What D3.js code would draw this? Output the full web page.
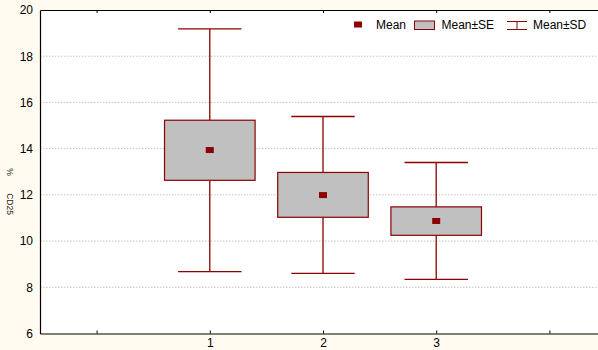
<!DOCTYPE html>
<html><head><meta charset="utf-8">
<script src="https://cdn.jsdelivr.net/npm/d3@7"></script>
<style>body{margin:0;background:#fffbf0}svg{display:block}text{font-family:"Liberation Sans",Arial,sans-serif}</style>
</head><body><svg id="c" width="598" height="350"></svg>
<script>
const categories = ["1","2","3"];
const means  = [13.94, 11.99, 10.87];
const seLow  = [12.63, 11.03, 10.25];
const seHigh = [15.23, 12.97, 11.48];
const sdLow  = [8.68, 8.60, 8.34];
const sdHigh = [19.18, 15.39, 13.40];
const yTicks = [6, 8, 10, 12, 14, 16, 18, 20];
const xTickPos = [0, 1, 2, 3, 4];

const svg = d3.select("#c");
const W = 598, H = 350;
const m = {l: 40, t: 10, b: 333.5};
const x = d3.scaleLinear().domain([-0.5, 4.5]).range([m.l, m.l + 5 * 113.2]);
const y = d3.scaleLinear().domain([6, 20]).range([m.b, m.t]);
const red = "#8b0000";

svg.append("rect").attr("width", W).attr("height", H).attr("fill", "#fffbf0");
svg.append("rect").attr("x", m.l).attr("y", m.t).attr("width", W - m.l).attr("height", m.b - m.t).attr("fill", "#fff");

// grid
svg.append("g").selectAll("line").data(yTicks.filter(d => d > 6 && d < 20)).join("line")
  .attr("x1", m.l).attr("x2", W).attr("y1", d => y(d)).attr("y2", d => y(d))
  .attr("stroke", "#c4c4c4").attr("stroke-width", 1).attr("stroke-dasharray", "1.5,1.5");

// axes
const yAxis = d3.axisLeft(y).tickValues(yTicks).tickSize(0).tickPadding(7).tickFormat(d3.format("d"));
const gy = svg.append("g").attr("transform", `translate(${m.l},0)`).call(yAxis);
gy.select(".domain").attr("stroke", "#000").attr("stroke-width", 1.2);
gy.selectAll("text").attr("font-size", 12).attr("fill", "#000");

const xAxis = d3.axisBottom(x).tickValues(xTickPos).tickSizeInner(-3).tickSizeOuter(0).tickPadding(6)
  .tickFormat(d => (d >= 1 && d <= 3) ? categories[d - 1] : "");
const gx = svg.append("g").attr("transform", `translate(0,${m.b})`).call(xAxis);
gx.select(".domain").attr("stroke", "#000").attr("stroke-width", 1.2);
gx.selectAll("line").attr("stroke", "#000");
gx.selectAll("text").attr("font-size", 12).attr("fill", "#000").attr("dy", "0.6em");

const xTop = d3.axisTop(x).tickValues(xTickPos).tickSizeInner(-3).tickSizeOuter(0).tickFormat("");
const gt = svg.append("g").attr("transform", `translate(0,${m.t})`).call(xTop);
gt.select(".domain").attr("stroke", "#000").attr("stroke-width", 1.2);
gt.selectAll("line").attr("stroke", "#000");

// y label
svg.append("text").attr("transform", "translate(7,172) rotate(90)").attr("text-anchor", "middle")
  .attr("font-size", 8.5).attr("fill", "#222").text("%");
svg.append("text").attr("transform", "translate(7,204) rotate(90)").attr("text-anchor", "middle")
  .attr("font-size", 8.5).attr("fill", "#222").text("CD25");

// groups
const idx = d3.range(categories.length);
const g = svg.append("g");
const boxHalf = 0.4, capHalf = 0.28;
g.selectAll(".wh").data(idx).join("line").attr("class", "wh")
  .attr("x1", i => x(i + 1)).attr("x2", i => x(i + 1))
  .attr("y1", i => y(sdLow[i])).attr("y2", i => y(sdHigh[i]))
  .attr("stroke", red).attr("stroke-width", 1.3);
g.selectAll(".capT").data(idx).join("line").attr("class", "capT")
  .attr("x1", i => x(i + 1 - capHalf)).attr("x2", i => x(i + 1 + capHalf))
  .attr("y1", i => y(sdHigh[i])).attr("y2", i => y(sdHigh[i]))
  .attr("stroke", red).attr("stroke-width", 1.3);
g.selectAll(".capB").data(idx).join("line").attr("class", "capB")
  .attr("x1", i => x(i + 1 - capHalf)).attr("x2", i => x(i + 1 + capHalf))
  .attr("y1", i => y(sdLow[i])).attr("y2", i => y(sdLow[i]))
  .attr("stroke", red).attr("stroke-width", 1.3);
g.selectAll(".box").data(idx).join("rect").attr("class", "box")
  .attr("x", i => x(i + 1 - boxHalf)).attr("width", i => x(i + 1 + boxHalf) - x(i + 1 - boxHalf))
  .attr("y", i => y(seHigh[i])).attr("height", i => y(seLow[i]) - y(seHigh[i]))
  .attr("fill", "#c0c0c0").attr("stroke", red).attr("stroke-width", 1.2);
g.selectAll(".mean").data(idx).join("rect").attr("class", "mean")
  .attr("x", i => x(i + 1) - 4).attr("y", i => y(means[i]) - 3).attr("width", 8).attr("height", 6)
  .attr("fill", red);

// legend
const lg = svg.append("g");
lg.append("rect").attr("x", 354).attr("y", 21.5).attr("width", 8).attr("height", 6).attr("fill", red);
lg.append("text").attr("x", 376).attr("y", 29).attr("font-size", 12).text("Mean");
lg.append("rect").attr("x", 414.5).attr("y", 21).attr("width", 20).attr("height", 8.5)
  .attr("fill", "#c0c0c0").attr("stroke", red).attr("stroke-width", 1);
lg.append("text").attr("x", 441.5).attr("y", 29).attr("font-size", 12).text("Mean±SE");
lg.append("line").attr("x1", 507).attr("x2", 527).attr("y1", 21.5).attr("y2", 21.5).attr("stroke", red);
lg.append("line").attr("x1", 507).attr("x2", 527).attr("y1", 29.5).attr("y2", 29.5).attr("stroke", red);
lg.append("line").attr("x1", 517).attr("x2", 517).attr("y1", 21.5).attr("y2", 29.5).attr("stroke", red);
lg.append("text").attr("x", 533).attr("y", 29).attr("font-size", 12).text("Mean±SD");
</script></body></html>
